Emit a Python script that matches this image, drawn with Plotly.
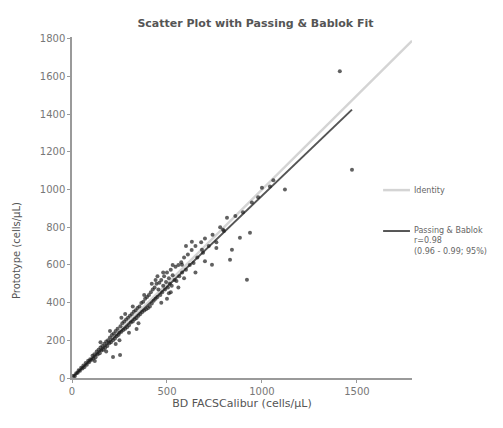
import plotly.graph_objects as go

# ---- data ----
x_vals = [8, 15, 22, 30, 35, 42, 48, 55, 60, 66, 72, 78, 85, 90, 96, 102, 108, 112, 118, 124,
          130, 135, 140, 146, 150, 155, 160, 166, 170, 175, 180, 186, 190, 196, 200,
          205, 210, 216, 220, 226, 230, 235, 240, 245, 250, 255, 260, 265, 270, 275,
          280, 285, 290, 295, 300, 305, 310, 315, 320, 325, 330, 335, 340, 345, 350,
          355, 360, 365, 370, 375, 380, 385, 390, 395, 400,
          230, 260, 300, 320, 350, 380, 250, 280, 150, 120, 200, 180, 340, 253, 216,
          405, 410, 415, 420, 425, 430, 435, 440, 445, 450, 455, 460, 465, 470, 475,
          480, 485, 490, 495, 500, 505, 510, 515, 520, 525, 530, 540, 545, 550, 560,
          565, 575, 580, 590, 600, 610, 620, 630, 640, 650,
          440, 470, 500, 530, 480, 560, 520, 450, 590, 600, 420, 510,
          660, 680, 690, 700, 720, 740, 760, 780, 800, 795, 816, 832, 842, 884, 937,
          921, 947, 860, 900, 980, 1000, 1042, 1121, 1060, 737, 684, 631, 579, 650,
          700, 760, 1410, 1474]
y_vals = [12, 10, 25, 28, 41, 38, 55, 50, 66, 58, 80, 70, 92, 84, 100, 95, 118, 104, 126, 110,
          140, 125, 150, 132, 162, 146, 170, 150, 182, 160, 194, 170, 200, 184, 215,
          190, 228, 200, 236, 210, 250, 222, 262, 230, 240, 275, 245, 290, 255, 300,
          262, 310, 270, 320, 280, 330, 295, 340, 300, 352, 312, 360, 318, 372, 330,
          380, 340, 398, 350, 405, 358, 420, 365, 430, 372,
          180, 320, 240, 380, 290, 440, 200, 340, 190, 90, 250, 140, 260, 122, 112,
          440, 380, 455, 395, 470, 410, 480, 420, 500, 430, 470, 505, 440, 520, 455,
          490, 540, 470, 510, 560, 480, 530, 500, 575, 490, 545, 520, 590, 515, 600,
          540, 615, 560, 640, 575, 655, 600, 680, 610, 700,
          520, 400, 420, 600, 560, 480, 455, 540, 530, 700, 500, 450,
          640, 720, 665, 740, 700, 760, 720, 800, 780, 787, 851, 628, 681, 745, 771,
          521, 931, 860, 880, 960, 1010, 1016, 1000, 1050, 601, 681, 723, 601, 560,
          620, 690, 1628, 1106]

pb_slope = 0.965
pb_intercept = 2.0
axis_max_x = 1790
axis_max_y = 1810
y_ticks = [0, 200, 400, 600, 800, 1000, 1200, 1400, 1600, 1800]
x_ticks = [0, 500, 1000, 1500]

title_text = "Scatter Plot with Passing & Bablok Fit"
x_title = "BD FACSCalibur (cells/µL)"
y_title = "Prototype (cells/µL)"
legend_identity = "Identity"
legend_pb = ["Passing & Bablok", "r=0.98", "(0.96 - 0.99; 95%)"]

FONT = "DejaVu Sans"

# ---- figure ----
fig = go.Figure()

fig.add_trace(go.Scatter(
    x=[0, axis_max_x], y=[0, axis_max_x], mode="lines",
    line=dict(color="#d4d4d4", width=2.5), showlegend=False, hoverinfo="skip"))

xmin, xmax = min(x_vals), max(x_vals)
fig.add_trace(go.Scatter(
    x=[xmin, xmax], y=[pb_intercept + pb_slope * xmin, pb_intercept + pb_slope * xmax],
    mode="lines", line=dict(color="#555555", width=2), showlegend=False, hoverinfo="skip"))

fig.add_trace(go.Scatter(
    x=x_vals, y=y_vals, mode="markers",
    marker=dict(color="rgba(30,30,30,0.7)", size=4, line=dict(width=0)),
    showlegend=False))

axis_common = dict(showgrid=False, zeroline=False, showline=True, linecolor="#9a9a9a",
                   linewidth=1.5, ticks="outside", ticklen=3, tickcolor="#9a9a9a",
                   tickfont=dict(size=10, color="#777777", family=FONT))

fig.update_xaxes(range=[0, axis_max_x], tickvals=x_ticks, **axis_common,
                 title=dict(text=x_title, font=dict(size=11, color="#555555", family=FONT),
                            standoff=4))
fig.update_yaxes(range=[0, axis_max_y], tickvals=y_ticks, **axis_common)

# legend drawn manually (right side)
fig.add_shape(type="line", xref="paper", yref="paper", x0=0.915, x1=0.994, y0=0.551, y1=0.551,
              line=dict(color="#d4d4d4", width=2.5))
fig.add_annotation(xref="paper", yref="paper", x=1.0, y=0.551, text=legend_identity,
                   showarrow=False, xanchor="left", yanchor="middle",
                   font=dict(size=8, color="#666666", family=FONT))
fig.add_shape(type="line", xref="paper", yref="paper", x0=0.915, x1=0.994, y0=0.431, y1=0.431,
              line=dict(color="#555555", width=2))
fig.add_annotation(xref="paper", yref="paper", x=1.0, y=0.431 + 0.02,
                   text="<br>".join(legend_pb), align="left",
                   showarrow=False, xanchor="left", yanchor="top",
                   font=dict(size=8, color="#666666", family=FONT))

fig.add_annotation(xref="paper", yref="paper", x=-0.165, y=0.375, text=y_title, textangle=-90,
                   showarrow=False, xanchor="center", yanchor="middle",
                   font=dict(size=10, color="#555555", family=FONT))

fig.update_layout(
    width=495, height=420,
    margin=dict(l=64, r=91, t=29, b=50),
    paper_bgcolor="white", plot_bgcolor="white",
    title=dict(text="<b>" + title_text + "</b>", x=0.5, xanchor="center", y=0.965, yanchor="middle",
               font=dict(size=11, color="#555555", family=FONT)),
)

fig.write_html("out.html")
